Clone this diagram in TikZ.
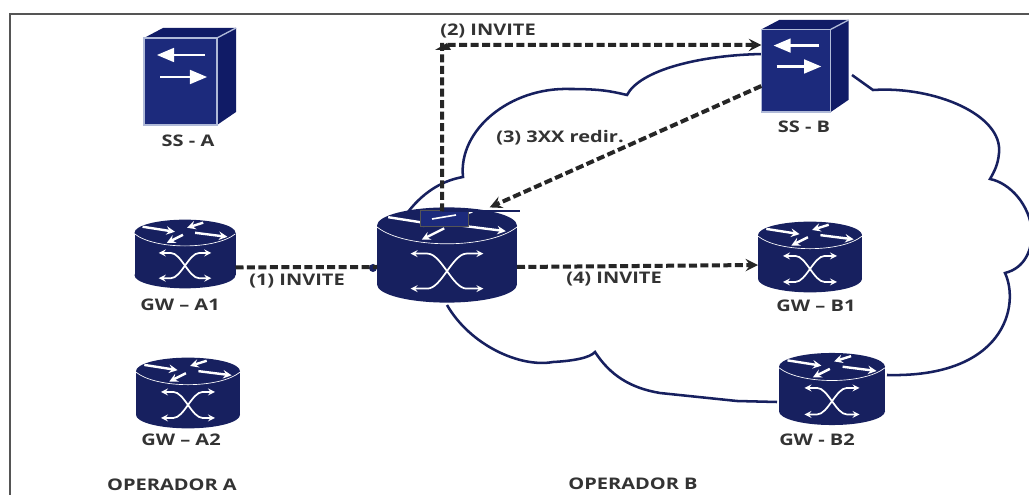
\documentclass[tikz,border=0pt]{standalone}
\usepackage{fontspec}
\setmainfont[FakeStretch=1.25]{Open Sans}
\usepackage{tikz}
\usetikzlibrary{arrows}
\definecolor{cbNavy}{RGB}{23,32,95}
\definecolor{cbBlue}{RGB}{28,42,124}
\definecolor{cbDeep}{RGB}{16,27,102}
\definecolor{cbEdge}{RGB}{176,186,216}
\definecolor{cbFrame}{RGB}{85,85,85}
\definecolor{cbText}{RGB}{51,51,51}

\newcommand{\routericon}[4]{%
  \begin{scope}[shift={(#2,#3)},scale=#4]
    \fill[cbNavy] (0,-21) ellipse [x radius=50,y radius=13];
    \fill[cbNavy] (-50,-21) rectangle (50,21);
    \fill[cbNavy] (0,21) ellipse [x radius=50,y radius=13];
    \draw[white,line width=0.5pt] (-50,-20) .. controls (-30,-4) and (30,-4) .. (50,-20);
    \draw[top arrow] (-42,-27) -- (-10,-22);
    \draw[top arrow] (18,-31) -- (2,-26);
    \draw[top arrow] (10,-21) -- (42,-17);
    \draw[top arrow] (-2,-19) -- (-18,-11);
    \draw[cross arrow] (-26,-1) -- (-14,-1) .. controls (-4,-1) and (4,24) .. (14,24) -- (26,24);
    \draw[cross arrow] (-26,24) -- (-14,24) .. controls (-4,24) and (4,-1) .. (14,-1) -- (26,-1);
  \end{scope}
  \node[minimum width=#4*75pt, minimum height=#4*51pt] at (#2,#3) (#1) {};
}
\newcommand{\servericon}[4]{%
  \begin{scope}[shift={(#2,#3)},scale=#4]
    \fill[cbDeep] (-46,-38.5) -- (-27,-48.5) -- (46,-48.5) -- (46,35.5) -- (27,48.5) -- (27,-38.5) -- cycle;
    \fill[cbBlue,draw=cbEdge,line width=1pt] (-46,-38.5) rectangle (27,48.5);
    \draw[cbEdge,line width=1pt] (27,-38.5) -- (46,-48.5);
    \draw[server arrow] (15,-21.5) -- (-33,-21.5);
    \draw[server arrow] (-30,0.5) -- (17,0.5);
  \end{scope}
  \node[minimum width=#4*69pt, minimum height=#4*73pt] at (#2,#3) (#1) {};
}

\begin{document}
\begin{tikzpicture}[x=0.75pt,y=-0.75pt]%
  \tikzset{normal arrow/.style={draw,dash pattern=on 6pt off 2.6pt,line width=3pt,black!85}}
  \tikzset{server arrow/.style={draw=white,line width=2pt,-triangle 45}}
  \tikzset{top arrow/.style={draw=white,line width=1.8pt,-stealth}}
  \tikzset{cross arrow/.style={draw=white,line width=1.3pt,stealth-stealth}}
  \tikzset{cloud line/.style={draw=cbNavy,line width=1.9pt}}
  \tikzset{tag/.style={text=cbText,font=\fontsize{12}{14}\selectfont\bfseries}}
  \tikzstyle{every node}=[draw=none, outer sep=0pt, inner sep=0pt]

  \useasboundingbox (0,0) rectangle (1029,495);
  \fill[white] (0,0) rectangle (1029,495);
  \draw[cbFrame,line width=2pt] (10,495) -- (10,14) -- (1029,14);

  % cloud
  \path[cloud line] (852,75) -- (873,90) .. controls (935,86) and (1003,115) .. (999,153)
    .. controls (998,165) and (994,172) .. (990,179)
    .. controls (1010,183) and (1030,205) .. (1032,232)
    .. controls (1032,250) and (1025,268) .. (1005,273)
    .. controls (1020,305) and (1005,378) .. (887,375);
  \path[cloud line] (763,54) .. controls (700,55) and (640,70) .. (627,95)
    .. controls (610,91) and (600,89) .. (570,89)
    .. controls (510,87) and (458,130) .. (463,177)
    .. controls (445,180) and (425,190) .. (408,212);
  \path[cloud line] (447,305) .. controls (470,345) and (520,368) .. (553,362)
    .. controls (572,361) and (590,358) .. (595,352)
    .. controls (610,375) and (630,388) .. (660,393)
    -- (737,401) -- (777,402);

  \servericon{SSA}{190}{76.5}{1}
  \servericon{SSB}{805}{66}{0.95}
  \routericon{GWA1}{185}{254}{1.01}
  \routericon{GWA2}{188}{393}{1.04}
  \routericon{GWB1}{810}{257}{1.04}
  \routericon{GWB2}{832}{389}{1.06}
  \fill[cbNavy] (373,268) circle (4);
  \routericon{GWC}{447}{255}{1.4}

  \fill[cbBlue,draw=cbFrame,line width=0.5pt] (420,210) rectangle (468,226);
  \draw[white,line width=1.2pt] (432,219) -- (456,215);
  \draw[cbNavy,line width=0.8pt] (442,211) -- (520,211);

  \coordinate (CR) at (442,45);
  \node[tag] at (488,31) (L2) {(2) INVITE};
  \node[tag] at (560,138) (L3) {(3) 3XX redir.};
  \node[tag] at (297,281) (L1) {(1) INVITE};
  \node[tag] at (614,279) (L4) {(4) INVITE};
  \node[tag] at (188,141) (LSSA) {SS - A};
  \node[tag] at (804,127) (LSSB) {SS - B};
  \node[tag] at (180,305) (LGWA1) {GW – A1};
  \node[tag] at (181,440) (LGWA2) {GW – A2};
  \node[tag] at (816,306) (LGWB1) {GW – B1};
  \node[tag] at (817,440) (LGWB2) {GW - B2};
  \node[tag] at (172,485) (OPA) {OPERADOR A};
  \node[tag] at (633,484) (OPB) {OPERADOR B};

  \path[normal arrow] ([yshift=-10pt]GWA1.east) -- ([yshift=-9pt]GWC.west);
  \path[normal arrow,-stealth] ([xshift=-3.7pt,yshift=-3pt]GWC.north) -- (CR) -- (CR -| SSB.west);
  \path[normal arrow,-stealth] ([yshift=-15pt]SSB.west) -- ([xshift=32pt]GWC.north);
  \path[normal arrow,-stealth] ([yshift=-9pt]GWC.east) -- ([yshift=-6pt]GWB1.west);
  \fill[black!85] (CR) ++(-7,5) -- ++(12,-7) -- ++(4,7) -- cycle;
\end{tikzpicture}
\end{document}
